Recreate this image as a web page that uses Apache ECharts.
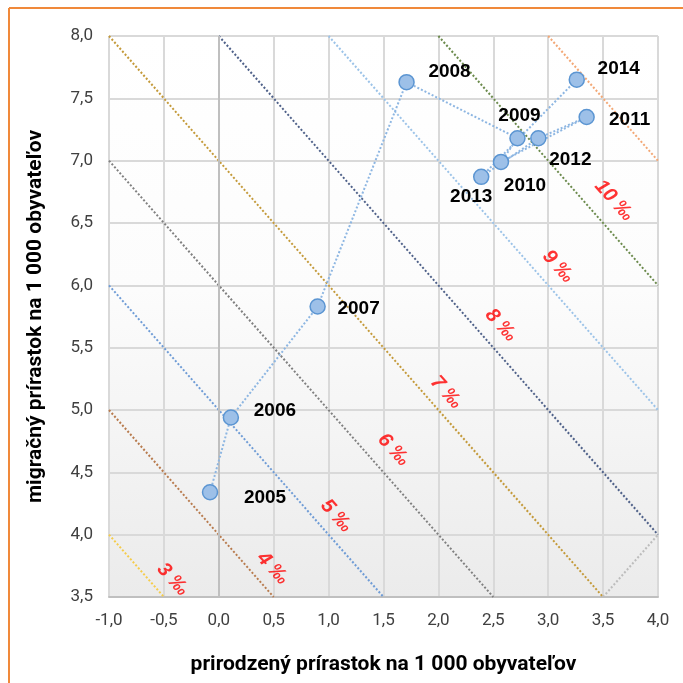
<!DOCTYPE html>
<html>
<head>
<meta charset="utf-8">
<script src="https://cdn.jsdelivr.net/npm/echarts@6/dist/echarts.min.js"></script>
<style>
  html, body { margin: 0; padding: 0; background: #fff; }
  #chart { width: 683px; height: 683px; }
</style>
</head>
<body>
<div id="chart"></div>
<script>
// roky a hodnoty (prirodzený / migračný prírastok na 1 000 obyvateľov)
var years = ['2005', '2006', '2007', '2008', '2009', '2010', '2011', '2012', '2013', '2014'];
var natural = [-0.08, 0.11, 0.90, 1.71, 2.72, 2.57, 3.35, 2.91, 2.39, 3.26];
var migration = [4.34, 4.94, 5.83, 7.63, 7.18, 6.99, 7.35, 7.18, 6.87, 7.65];

// celkový prírastok - izočiary x + y = c
var totals = [3, 4, 5, 6, 7, 8, 9, 10, 11];
var totalColors = ['#F5CC4A', '#B87B4E', '#6F9CD6', '#808080', '#C49A3A', '#4F6189', '#9CC3E8', '#6B8A4C', '#F3A876'];

// popisky izočiar (umiestnenie odčítané z obrázka)
var pctLabels = ['3 ‰', '4 ‰', '5 ‰', '6 ‰', '7 ‰', '8 ‰', '9 ‰', '10 ‰'];
var pctLabelX = [-0.42, 0.49, 1.07, 1.59, 2.07, 2.57, 3.09, 3.60];
var pctLabelY = [3.64, 3.73, 4.15, 4.68, 5.14, 5.68, 6.15, 6.68];

var xTicks = { min: -1, max: 4, interval: 0.5 };
var yTicks = { min: 3.5, max: 8, interval: 0.5 };

// posun popiskov rokov voči bodu (px)
var yearLabelOffset = [[55, 5], [44, -7], [41, 2], [43, -10], [2, -22], [24, 24], [43, 3], [32, 22], [-10, 20], [42, -11]];

var fmt = function (v) { return v.toFixed(1).replace('.', ','); };

var chart = echarts.init(document.getElementById('chart'));

var series = [];

// izočiary
totals.forEach(function (c, i) {
  var x0 = Math.max(xTicks.min, c - yTicks.max);
  var x1 = Math.min(xTicks.max, c - yTicks.min);
  series.push({
    type: 'line',
    data: [[x0, c - x0], [x1, c - x1]],
    symbol: 'none',
    silent: true,
    lineStyle: { color: totalColors[i], width: 2, type: [2, 2] },
    z: 2
  });
});
// šedá čiara v pravom dolnom rohu (x = y)
series.push({
  type: 'line',
  data: [[3.5, 3.5], [4, 4]],
  symbol: 'none',
  silent: true,
  lineStyle: { color: '#BDBDBD', width: 2, type: [2, 2] },
  z: 2
});

// popisky ‰
series.push({
  type: 'scatter',
  data: pctLabelX.map(function (x, i) { return [x, pctLabelY[i]]; }),
  symbolSize: 0,
  silent: true,
  label: {
    show: true,
    position: 'inside',
    rotate: -48,
    formatter: function (p) { return pctLabels[p.dataIndex]; },
    color: '#FF0000',
    fontFamily: 'Liberation Sans',
    fontWeight: 'bold',
    fontStyle: 'italic',
    fontSize: 20
  },
  z: 3
});

// dáta
series.push({
  type: 'line',
  data: natural.map(function (x, i) {
    return {
      value: [x, migration[i]],
      label: { offset: yearLabelOffset[i] }
    };
  }),
  symbol: 'circle',
  symbolSize: 15,
  itemStyle: { color: '#9DC0E8', borderColor: '#5B95D2', borderWidth: 1.5 },
  lineStyle: { color: '#8DB6E2', width: 2, type: [2, 2] },
  label: {
    show: true,
    position: 'inside',
    formatter: function (p) { return years[p.dataIndex]; },
    color: '#000',
    fontFamily: 'Liberation Sans',
    fontWeight: 'bold',
    fontSize: 19
  },
  markLine: {
    silent: true,
    symbol: 'none',
    label: { show: false },
    lineStyle: { color: '#BFBFBF', width: 2, type: 'solid' },
    data: [{ xAxis: 0 }]
  },
  z: 5
});

chart.setOption({
  animation: false,
  grid: {
    left: 109, right: 25, top: 36, bottom: 86,
    show: true,
    borderWidth: 0,
    backgroundColor: new echarts.graphic.LinearGradient(0, 0, 0, 1, [
      { offset: 0, color: '#FFFFFF' },
      { offset: 0.45, color: '#FCFCFC' },
      { offset: 1, color: '#EBEBEB' }
    ])
  },
  xAxis: {
    type: 'value',
    min: xTicks.min, max: xTicks.max, interval: xTicks.interval,
    name: 'prirodzený prírastok na 1 000 obyvateľov',
    nameLocation: 'middle',
    nameGap: 57,
    nameTextStyle: { fontFamily: 'Roboto', fontWeight: 'bold', fontSize: 21, color: '#000' },
    axisLine: { show: true, lineStyle: { color: '#BFBFBF', width: 2 } },
    axisTick: { show: false },
    axisLabel: { formatter: fmt, color: '#404040', fontFamily: 'Roboto', fontSize: 17, margin: 15 },
    splitLine: { show: true, lineStyle: { color: '#D9D9D9', width: 2 } }
  },
  yAxis: {
    type: 'value',
    min: yTicks.min, max: yTicks.max, interval: yTicks.interval,
    name: 'migračný prírastok na 1 000 obyvateľov',
    nameLocation: 'middle',
    nameGap: 63,
    nameTextStyle: { fontFamily: 'Roboto', fontWeight: 'bold', fontSize: 21, color: '#000' },
    axisLine: { show: true, lineStyle: { color: '#D9D9D9', width: 2 } },
    axisTick: { show: false },
    axisLabel: { formatter: fmt, color: '#404040', fontFamily: 'Roboto', fontSize: 17, margin: 16 },
    splitLine: { show: true, lineStyle: { color: '#D9D9D9', width: 2 } }
  },
  graphic: [
    { type: 'line', shape: { x1: 9, y1: 8, x2: 683, y2: 8 }, style: { stroke: '#F0893A', lineWidth: 2 } },
    { type: 'line', shape: { x1: 9, y1: 8, x2: 9, y2: 683 }, style: { stroke: '#F0893A', lineWidth: 2 } }
  ],
  series: series
});
</script>
</body>
</html>
